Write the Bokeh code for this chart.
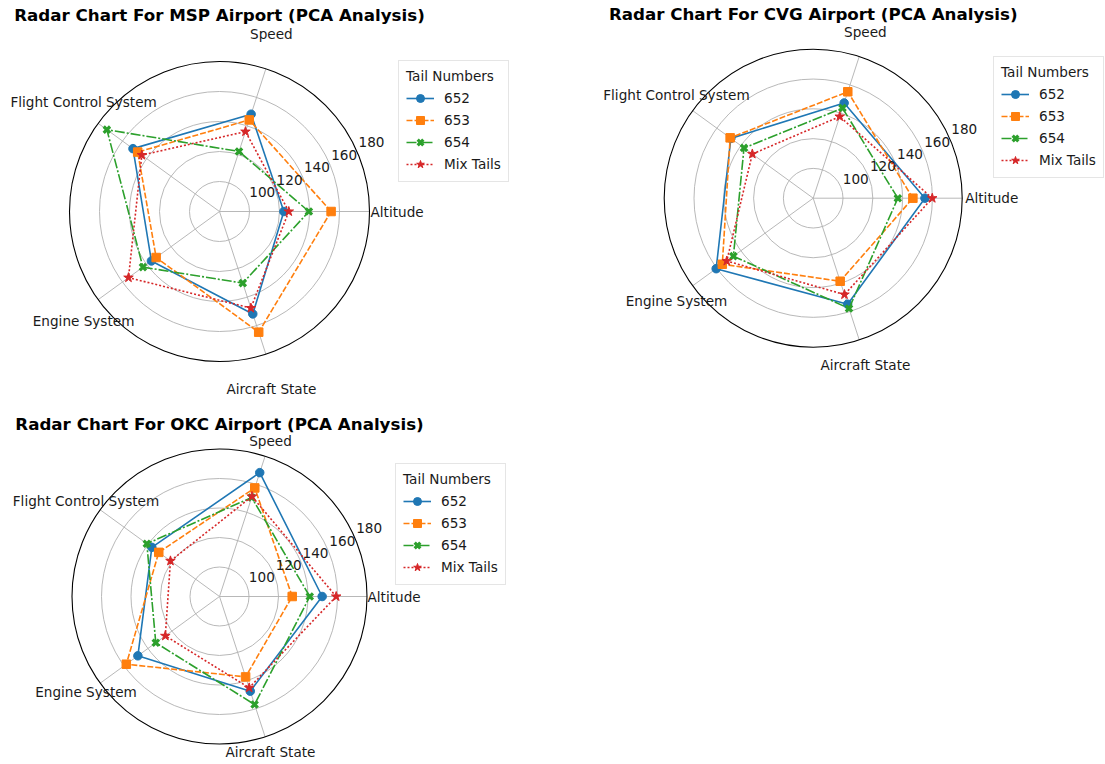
import numpy as np
from bokeh.plotting import figure
from bokeh.models import Range1d, Legend, LegendItem
from bokeh.layouts import column, row
from bokeh.core.properties import value
from bokeh.embed import file_html
from bokeh.resources import INLINE

# ---- data -----------------------------------------------------------------
categories = ["Altitude", "Speed", "Flight Control System", "Engine System", "Aircraft State"]
tail_labels = ["652", "653", "654", "Mix Tails"]
radial_ticks = [100, 120, 140, 160, 180]
r_base = 80

msp_652 = [122.9, 148.2, 151.3, 136.1, 151.8]
msp_653 = [154.4, 144.2, 147.4, 132.2, 164.6]
msp_654 = [139.6, 122.1, 172.8, 143.1, 130.2]
msp_mix = [126.2, 136.0, 144.0, 155.0, 147.7]

cvg_652 = [155.0, 147.2, 148.3, 160.5, 154.8]
cvg_653 = [146.9, 155.1, 148.9, 155.4, 138.6]
cvg_654 = [136.8, 143.6, 137.4, 146.2, 157.8]
cvg_mix = [159.9, 137.6, 130.5, 151.7, 148.0]

okc_652 = [149.6, 168.3, 136.7, 148.4, 147.5]
okc_653 = [129.3, 157.4, 130.9, 158.1, 137.3]
okc_654 = [141.2, 150.6, 140.9, 133.4, 157.0]
okc_mix = [159.1, 151.3, 121.1, 125.4, 145.1]

# ---- styling ----------------------------------------------------------------
COLORS = ["#1f77b4", "#ff7f0e", "#2ca02c", "#d62728"]
DASHES = ["solid", "6 2", "10 2 2 2", "2 2"]
MARKERS = ["circle", "square", "x", "star"]
MARKER_SIZE = [8.5, 8.5, 9, 10]
MARKER_LW = [1, 1, 3.2, 1]
FONT_NAME = "DejaVu Sans"
FONT = value(FONT_NAME)
FS = "13.6px"
GRID = "#b0b0b0"
TEXT = "#1a1a1a"


def radar(title, series, width, height, cx, cy, scale,
          title_dy, label_rx, label_ry, alt_dx, legend_left, legend_top):
    """One radar panel; cx, cy is the pole in pixels, scale is px per value unit."""
    p = figure(width=width, height=height, output_backend="svg", toolbar_location=None,
               x_range=Range1d(-cx / scale, (width - cx) / scale),
               y_range=Range1d(-(height - cy) / scale, cy / scale),
               x_axis_location=None, y_axis_location=None,
               min_border=0, outline_line_color=None)
    p.grid.visible = False

    theta = np.deg2rad(np.arange(len(categories)) * 360.0 / len(categories))
    r_max = radial_ticks[-1] - r_base

    # rings and spokes
    for v in radial_ticks[:-1]:
        p.circle(0, 0, radius=v - r_base, fill_color=None, line_color=GRID, line_width=0.9)
    p.segment(x0=np.zeros(len(theta)), y0=np.zeros(len(theta)),
              x1=r_max * np.cos(theta), y1=r_max * np.sin(theta),
              line_color=GRID, line_width=0.9)

    # series
    items = []
    for i, (lab, vals) in enumerate(zip(tail_labels, series)):
        r = np.array(vals) - r_base
        xs = r * np.cos(theta)
        ys = r * np.sin(theta)
        lr = p.line(np.append(xs, xs[0]), np.append(ys, ys[0]), line_color=COLORS[i],
                    line_width=1.6, line_dash=DASHES[i])
        sr = p.scatter(xs, ys, marker=MARKERS[i], size=MARKER_SIZE[i],
                       fill_color=COLORS[i], line_color=COLORS[i], line_width=MARKER_LW[i])
        items.append(LegendItem(label=lab, renderers=[lr, sr]))

    # outer boundary
    p.circle(0, 0, radius=r_max, fill_color=None, line_color="black", line_width=1.1)

    # radial tick labels
    ang = np.deg2rad(24.5)
    rr = [((v - r_base) * scale + 17) / scale for v in radial_ticks]
    p.text(x=[q * np.cos(ang) for q in rr], y=[q * np.sin(ang) for q in rr],
           text=[str(v) for v in radial_ticks], text_font=FONT, text_font_size=FS,
           text_align="center", text_baseline="middle", text_color=TEXT)

    # category labels
    p.text(x=[alt_dx / scale], y=[0], text=[categories[0]], text_font=FONT,
           text_font_size=FS, text_align="left", text_baseline="middle", text_color=TEXT)
    p.text(x=list(label_rx / scale * np.cos(theta[1:])),
           y=list(label_ry / scale * np.sin(theta[1:])),
           text=categories[1:], text_font=FONT, text_font_size=FS,
           text_align="center", text_baseline="middle", text_color=TEXT)

    # title
    p.text(x=[0], y=[title_dy / scale], text=[title], text_font=FONT,
           text_font_size="16.7px", text_font_style="bold",
           text_align="center", text_baseline="middle", text_color="black")

    leg_h = 115
    legend = Legend(items=items, title="Tail Numbers",
                    location=(legend_left, height - legend_top - leg_h),
                    title_text_font=FONT_NAME, title_text_font_size=FS,
                    title_text_font_style="normal", title_text_color=TEXT,
                    label_text_font=FONT_NAME, label_text_font_size=FS,
                    label_text_color=TEXT,
                    glyph_width=28, glyph_height=20, label_height=20,
                    label_standoff=10, padding=7, spacing=2, margin=0,
                    title_standoff=4,
                    border_line_color="#cccccc", border_line_width=1,
                    background_fill_color="white", background_fill_alpha=0.8)
    p.add_layout(legend)
    return p


p1 = radar("Radar Chart For MSP Airport (PCA Analysis)",
           [msp_652, msp_653, msp_654, msp_mix],
           590, 405, 219, 211, 1.5, 197, 168, 187, 151, 398, 67)
p2 = radar("Radar Chart For CVG Airport (PCA Analysis)",
           [cvg_652, cvg_653, cvg_654, cvg_mix],
           515, 405, 222.7, 197.7, 1.49, 184, 169, 175, 152, 403, 63)
p3 = radar("Radar Chart For OKC Airport (PCA Analysis)",
           [okc_652, okc_653, okc_654, okc_mix],
           590, 359, 219, 191, 1.475, 173, 165, 163, 148, 395, 65)

layout = column(row(p1, p2), p3)
open("out.html", "w").write(file_html(layout, INLINE))
